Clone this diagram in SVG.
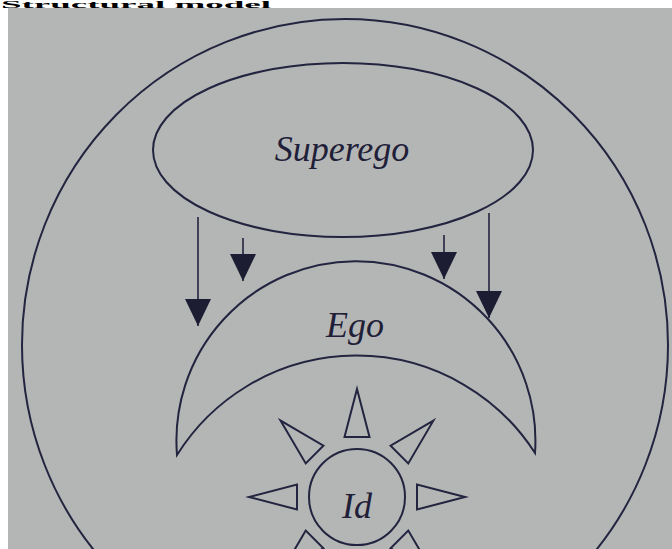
<svg xmlns="http://www.w3.org/2000/svg" xmlns:xlink="http://www.w3.org/1999/xlink" width="672" height="549" viewBox="0 0 672 549">
  <style>
    .ln { fill: none; stroke: #23243f; stroke-width: 2; }
    .lbl { font-family: "Liberation Serif", "DejaVu Serif", serif; font-style: italic; font-size: 36px; fill: #1f2038; text-anchor: middle; }
    .ray { fill: none; stroke: #23243f; stroke-width: 2; stroke-linejoin: miter; }
    .arr { stroke: #23243f; stroke-width: 1.6; fill: none; }
  </style>
  <defs>
    <marker id="head" markerUnits="userSpaceOnUse" markerWidth="28" markerHeight="28" refX="27" refY="13" orient="auto" viewBox="0 0 28 26">
      <path d="M0,0 L27,13 L0,26 Z" fill="#1c1d33"/>
    </marker>
    <polygon id="tri" points="357,389 344.5,437 369.5,437"/>
  </defs>

  <rect x="0" y="0" width="672" height="549" fill="#ffffff"/>
  <rect x="8" y="8" width="664" height="541" fill="#b4b6b5"/>
  <text x="1" y="7.5" font-family="Liberation Serif, serif" font-weight="bold" font-size="10" fill="#000" textLength="270" lengthAdjust="spacingAndGlyphs">Structural model</text>

  <g id="outer">
    <ellipse class="ln" cx="345" cy="345" rx="323" ry="326"/>
  </g>

  <g id="superego">
    <ellipse class="ln" cx="343" cy="150" rx="190" ry="87"/>
    <text class="lbl" x="342" y="161">Superego</text>
  </g>

  <g id="ego">
    <path class="ln" d="M177,455 A179.5,179.5 0 1 1 535,453 A212,212 0 0 0 177,455 Z"/>
    <text class="lbl" x="355" y="337">Ego</text>
  </g>

  <g id="id">
    <circle class="ln" cx="357" cy="497" r="48"/>
    <text class="lbl" x="357" y="518">Id</text>
    <g class="ray">
      <use xlink:href="#tri"/>
      <use xlink:href="#tri" transform="rotate(45 357 497)"/>
      <use xlink:href="#tri" transform="rotate(90 357 497)"/>
      <use xlink:href="#tri" transform="rotate(135 357 497)"/>
      <use xlink:href="#tri" transform="rotate(180 357 497)"/>
      <use xlink:href="#tri" transform="rotate(225 357 497)"/>
      <use xlink:href="#tri" transform="rotate(270 357 497)"/>
      <use xlink:href="#tri" transform="rotate(315 357 497)"/>
    </g>
  </g>

  <g id="connectors">
    <line class="arr" x1="198" y1="217" x2="198" y2="326" marker-end="url(#head)"/>
    <line class="arr" x1="243" y1="238" x2="243" y2="281" marker-end="url(#head)"/>
    <line class="arr" x1="444" y1="235" x2="444" y2="279" marker-end="url(#head)"/>
    <line class="arr" x1="489" y1="213" x2="489" y2="318" marker-end="url(#head)"/>
  </g>
</svg>
